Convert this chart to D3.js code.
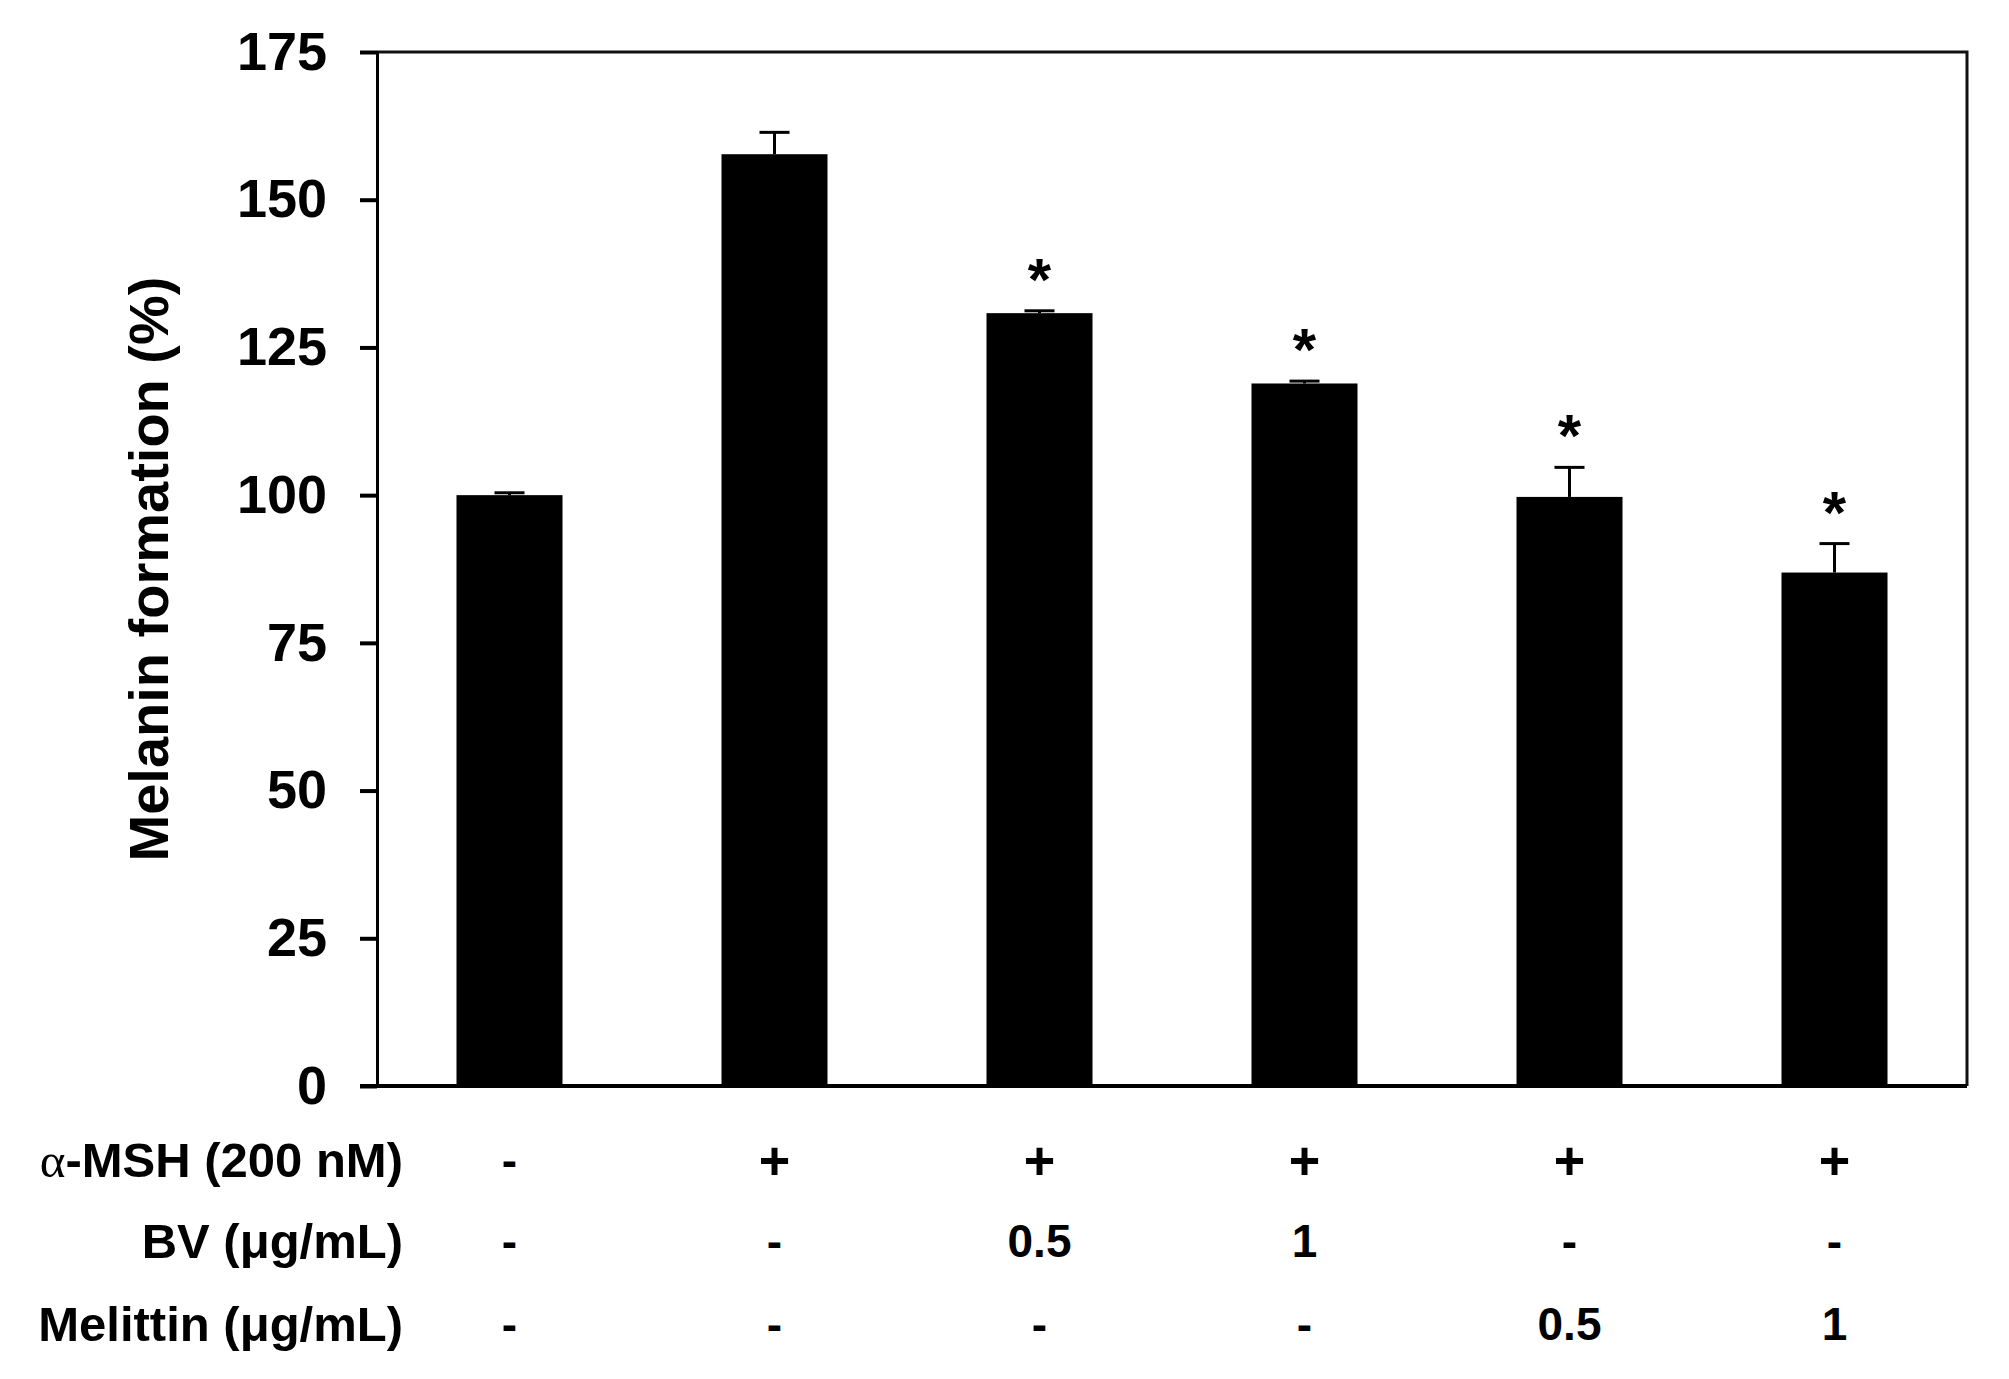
<!DOCTYPE html>
<html>
<head>
<meta charset="utf-8">
<script src="https://cdn.jsdelivr.net/npm/d3@7"></script>
<style>
  html, body { margin: 0; padding: 0; background: #fff; }
  svg text { font-family: "Liberation Sans", Arial, sans-serif; font-weight: bold; fill: #000; }
</style>
</head>
<body>
<div id="chart"></div>
<script>
// Melanin formation bar chart with treatment table underneath

const groups = ['ctrl', 'msh', 'bv05', 'bv1', 'mel05', 'mel1'];
const melanin = [100, 157.7, 130.8, 118.9, 99.7, 86.9];
const sem = [0.4, 3.7, 0.4, 0.4, 5.0, 4.9];
const significant = [false, false, true, true, true, true];
const yTicks = [0, 25, 50, 75, 100, 125, 150, 175];

const rowLabels = ['α-MSH (200 nM)', 'BV (μg/mL)', 'Melittin (μg/mL)'];
const mshRow = ['-', '+', '+', '+', '+', '+'];
const bvRow = ['-', '-', '0.5', '1', '-', '-'];
const melittinRow = ['-', '-', '-', '-', '0.5', '1'];

const W = 2009, H = 1379;
const margin = { top: 52, right: 42, bottom: 293, left: 377 };
const width = W - margin.left - margin.right;
const height = H - margin.top - margin.bottom;

const svg = d3.select('#chart').append('svg')
    .attr('width', W)
    .attr('height', H);

const g = svg.append('g')
    .attr('transform', `translate(${margin.left},${margin.top})`);

const x = d3.scaleBand()
    .domain(groups)
    .range([0, width])
    .paddingInner(0.6)
    .paddingOuter(0.3);

const y = d3.scaleLinear()
    .domain([0, 175])
    .range([height, 0]);

// frame (top and right)
g.append('path')
    .attr('d', `M0,0H${width}V${height}`)
    .attr('fill', 'none')
    .attr('stroke', '#111')
    .attr('stroke-width', 3);

// bars
g.selectAll('rect.bar')
    .data(groups)
    .enter()
    .append('rect')
    .attr('class', 'bar')
    .attr('x', d => x(d))
    .attr('y', (d, i) => y(melanin[i]))
    .attr('width', x.bandwidth())
    .attr('height', (d, i) => height - y(melanin[i]))
    .attr('fill', '#000');

// error bars (upper half only)
const capW = 30;
const err = g.selectAll('g.err')
    .data(groups)
    .enter()
    .append('g')
    .attr('class', 'err')
    .attr('transform', d => `translate(${x(d) + x.bandwidth() / 2},0)`);

err.append('line')
    .attr('y1', (d, i) => y(melanin[i]))
    .attr('y2', (d, i) => y(melanin[i] + sem[i]))
    .attr('stroke', '#000')
    .attr('stroke-width', 3);

err.append('line')
    .attr('x1', -capW / 2)
    .attr('x2', capW / 2)
    .attr('y1', (d, i) => y(melanin[i] + sem[i]))
    .attr('y2', (d, i) => y(melanin[i] + sem[i]))
    .attr('stroke', '#000')
    .attr('stroke-width', 3);

// significance asterisks
g.selectAll('text.star')
    .data(groups.filter((d, i) => significant[i]))
    .enter()
    .append('text')
    .attr('class', 'star')
    .attr('x', d => x(d) + x.bandwidth() / 2)
    .attr('y', d => {
        const i = groups.indexOf(d);
        return y(melanin[i] + sem[i]) - 11;
    })
    .attr('text-anchor', 'middle')
    .style('font-size', '60px')
    .text('*');

// y axis
const yAxis = g.append('g')
    .call(d3.axisLeft(y).tickValues(yTicks).tickSize(17).tickPadding(33));
yAxis.select('.domain').attr('stroke', '#000').attr('stroke-width', 3);
yAxis.selectAll('.tick line').attr('stroke', '#000').attr('stroke-width', 4);
yAxis.selectAll('.tick text')
    .style('font-size', '54px')
    .attr('fill', '#000');

// x baseline
g.append('line')
    .attr('x1', -17)
    .attr('x2', width)
    .attr('y1', height)
    .attr('y2', height)
    .attr('stroke', '#000')
    .attr('stroke-width', 4);

// y axis title
svg.append('text')
    .attr('transform', `translate(148,${margin.top + height / 2}) rotate(-90)`)
    .attr('text-anchor', 'middle')
    .attr('dy', '0.35em')
    .style('font-size', '56px')
    .text('Melanin formation (%)');

// treatment table
const rows = [mshRow, bvRow, melittinRow];
const rowY = [1160, 1241, 1324];

rows.forEach((row, r) => {
    const label = svg.append('text')
        .attr('x', 403)
        .attr('y', rowY[r])
        .attr('dy', '0.35em')
        .attr('text-anchor', 'end')
        .style('font-size', '49px');

    // the Greek alpha is set in a plain (non-bold) face in the original
    if (rowLabels[r].startsWith('α')) {
        label.append('tspan')
            .style('font-weight', 'normal')
            .style('font-family', '"Liberation Serif", serif')
            .text('α');
        label.append('tspan').text(rowLabels[r].slice(1));
    } else {
        label.text(rowLabels[r]);
    }

    svg.selectAll(null)
        .data(row)
        .enter()
        .append('text')
        .attr('x', (d, i) => margin.left + x(groups[i]) + x.bandwidth() / 2)
        .attr('y', rowY[r])
        .attr('dy', '0.35em')
        .attr('text-anchor', 'middle')
        .style('font-size', d => d === '+' ? '54px' : '46px')
        .text(d => d);
});
</script>
</body>
</html>
